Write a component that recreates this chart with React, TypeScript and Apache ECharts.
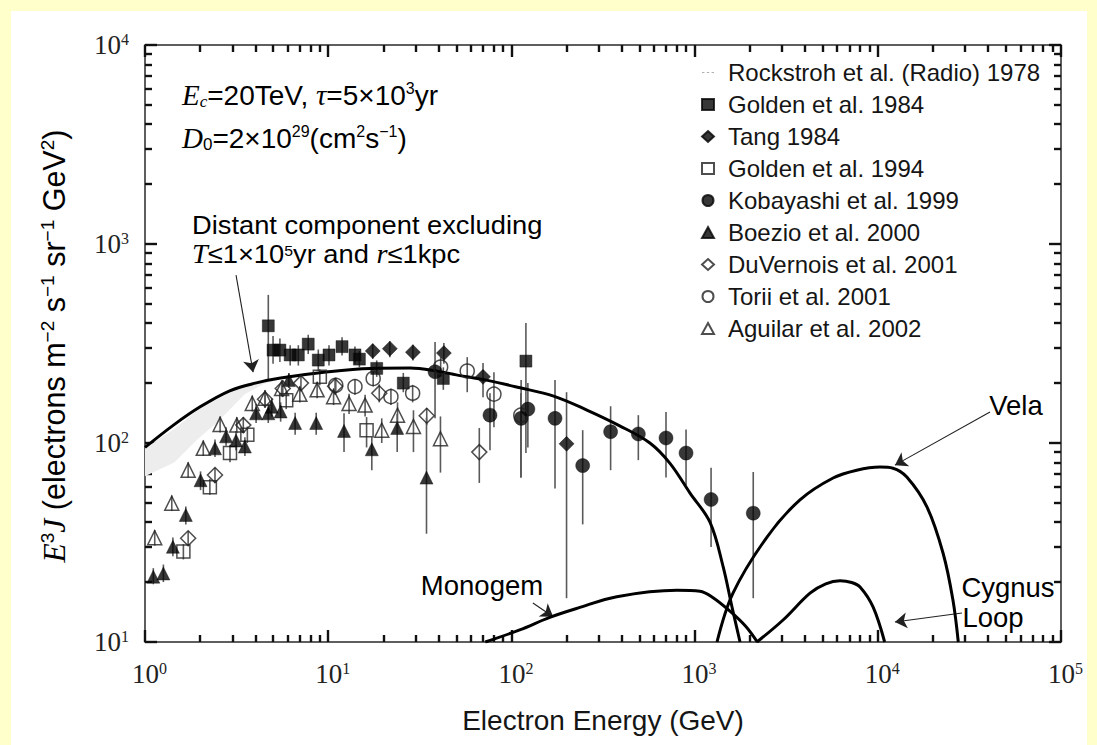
import React, { useEffect, useRef } from "react";
import * as echarts from "echarts";

// ---------- model curves: [E (GeV), E^3 J] ----------
const distantCurve = [[1,95],[1.43,123],[2,152],[2.9,183],[4,200],[5.5,212],[10,228],[17,237],[28,238],[40,229],[50,220],[73,207],[110,190],[170,172],[260,146],[390,122],[570,100],[734,79],[944,56],[1213,40],[1430,24],[1600,15],[1770,10]];
const monogemCurve = [[72,10],[111,11.5],[162,13.3],[230,14.8],[376,16.9],[800,18.2],[1070,18],[1250,16.8],[1560,14.3],[1900,12],[2200,10]];
const velaCurve = [[1325,10],[1620,17.6],[2485,33.7],[3760,51.8],[5700,66.7],[7670,73],[10280,75.7],[12100,74.7],[14400,67.4],[18570,47.6],[22700,28],[25700,16.3],[27500,10]];
const cygnusCurve = [[2190,10],[3040,12.9],[4265,17.6],[5200,19.6],[6220,20.3],[7200,19.9],[8000,18.9],[9420,15],[10900,10]];

// Rockstroh radio band
const radioUpper = [[1,94],[1.45,118],[2,150],[3,182],[4,198],[5.5,210]];
const radioLower = [[1,68],[1.45,80],[1.95,105],[2.5,128],[3.5,176],[4.5,199],[5.5,210]];

// ---------- measurements: [E, value, low, high] ----------
const golden1984 = [[4.71,388,207,555],[5.0,293,250,345],[5.45,293,255,335],[6.2,277,245,310],[6.87,277,245,310],[7.78,314,280,350],[8.83,261,230,295],[10.1,277,245,310],[11.9,305,275,340],[14.0,277,250,305],[14.8,264,240,290],[18.4,237,215,260],[25.7,200,180,225],[42.5,211,185,240],[120,258,89,401]];
const tang1984 = [[17.5,290,265,315],[21.7,298,270,325],[29.0,286,260,312],[42.8,283,250,318],[70,215,170,252],[200,99,16.6,180]];
const golden1994 = [[1.62,28.5,26,31],[2.26,60,55,66],[2.91,89,80,98],[3.62,110,100,121],[5.9,164,148,182],[9.0,215,195,235],[16.2,116,95,135]];
const kobayashi1999 = [[38.3,228,133,322],[76.4,138,92,178],[113,133,67,207],[123,148,95,200],[173,133,59,207],[245,77,39,116],[348,114,73,153],[493,111,82,138],[698,106,67,143],[898,89,61.5,117],[1230,52,30,75],[2090,44.4,16.6,71.5]];
const boezio2000 = [[1.11,21.3,19.5,23.5],[1.26,22.1,20,24.5],[1.42,30.1,27,33.5],[1.67,43.5,39,48],[2.01,65,58,72],[2.41,94,85,104],[2.77,108,97,120],[3.14,103,92,115],[3.51,96,86,107],[4.04,141,126,157],[4.71,141,126,157],[4.92,152,136,168],[5.5,144,128,160],[6.1,207,190,225],[6.6,126,110,142],[8.6,126,110,142],[12.2,115,90,141],[17.3,93,73,107],[23.8,119,90,140],[34.4,67,35,134]];
const duvernois2001 = [[1.72,33.2,30.5,36],[2.41,69,63,75],[3.44,123,112,135],[4.52,166,150,183],[5.65,188,170,207],[7.1,200,182,220],[10.9,193,175,212],[19.0,178,160,197],[34.5,137,123,150],[66.8,90,63,119]];
const torii2001 = [[11.0,195,178,213],[14.0,192,175,210],[17.6,211,192,230],[22.0,171,155,188],[28.9,178,160,196],[41.1,241,215,270],[57.4,230,180,270],[80.3,176,120,227],[112.5,138,67,178]];
const aguilar2002 = [[1.13,33.4,30.5,36.5],[1.40,49.8,45.5,54.5],[1.72,73,67,80],[2.08,94,86,103],[2.57,124,113,136],[3.17,123,112,135],[3.85,158,144,173],[4.52,168,153,184],[5.57,188,171,206],[7.0,176,160,193],[8.7,185,168,203],[10.7,171,155,188],[13.0,158,140,177],[15.9,155,136,175],[19.6,116,100,133],[23.9,138,118,160],[29.2,121,90,146],[41,105,71,136]];

const legendNames = ["Rockstroh et al. (Radio) 1978","Golden et al. 1984","Tang 1984","Golden et al. 1994","Kobayashi et al. 1999","Boezio et al. 2000","DuVernois et al. 2001","Torii et al. 2001","Aguilar et al. 2002"];

// annotation arrows [from, to] in data coords
const arrows = [
  [[3.14,698],[3.89,227]],
  [[131,15.7],[169,13.4]],
  [[40960,143],[12400,77.4]],
  [[28800,14],[12400,12.6]],
];

const xMin = 1, xMax = 1e5, yMin = 10, yMax = 1e4;

// tick values (decades and 2..9 sub-decades)
const xMajorTicks = [1, 10, 100, 1000, 10000, 100000];
const xMinorTicks: number[] = [];
for (let d = 0; d < 5; d++) for (let m = 2; m <= 9; m++) xMinorTicks.push(m * Math.pow(10, d));
const yMajorTicks = [10, 100, 1000, 10000];
const yMinorTicks: number[] = [];
for (let d = 1; d < 4; d++) for (let m = 2; m <= 9; m++) yMinorTicks.push(m * Math.pow(10, d));

const serif = "'Liberation Serif', 'Times New Roman', serif";
const sans = "'Liberation Sans', Arial, Helvetica, sans-serif";
const ink = "#151515";

const markerDefs = [
  { name: legendNames[1], data: golden1984, symbol: "rect", size: 12, filled: true },
  { name: legendNames[2], data: tang1984, symbol: "diamond", size: 15, filled: true },
  { name: legendNames[3], data: golden1994, symbol: "rect", size: 13, filled: false },
  { name: legendNames[4], data: kobayashi1999, symbol: "circle", size: 14, filled: true },
  { name: legendNames[5], data: boezio2000, symbol: "triangle", size: 13, filled: true },
  { name: legendNames[6], data: duvernois2001, symbol: "diamond", size: 15, filled: false },
  { name: legendNames[7], data: torii2001, symbol: "circle", size: 14, filled: false },
  { name: legendNames[8], data: aguilar2002, symbol: "triangle", size: 14, filled: false },
];

const supLabel = (v: number) => `{b|10}{s|${Math.round(Math.log10(v))}}`;
const labelRich = {
  b: { fontFamily: serif, fontSize: 27, color: "#222" },
  s: { fontFamily: serif, fontSize: 16, color: "#222", verticalAlign: "top" },
};

const paramRich = {
  t: { fontFamily: sans, fontSize: 28, color: ink, lineHeight: 30 },
  i: { fontFamily: serif, fontSize: 29, fontStyle: "italic", color: ink, lineHeight: 30 },
  sub: { fontFamily: serif, fontSize: 17, fontStyle: "italic", color: ink, verticalAlign: "bottom", lineHeight: 14 },
  subn: { fontFamily: sans, fontSize: 17, color: ink, verticalAlign: "bottom", lineHeight: 14 },
  sup: { fontFamily: sans, fontSize: 16, color: ink, verticalAlign: "top", lineHeight: 14 },
};
const annRich = {
  t: { fontFamily: sans, fontSize: 27.5, color: ink, lineHeight: 22 },
  i: { fontFamily: serif, fontSize: 28.5, fontStyle: "italic", color: ink, lineHeight: 22 },
  sup: { fontFamily: sans, fontSize: 16, color: ink, verticalAlign: "top", lineHeight: 12 },
};
const tightRich = {
  t: { fontFamily: sans, fontSize: 26, color: ink, lineHeight: 22 },
  i: { fontFamily: serif, fontSize: 27, fontStyle: "italic", color: ink, lineHeight: 22 },
  sup: { fontFamily: sans, fontSize: 15, color: ink, verticalAlign: "top", lineHeight: 12 },
};

const tickLine = { color: "#111111", width: 2.4 };

function xAxisDef(position: string, ticks: number[], len: number, withLabels: boolean) {
  const base: any = {
    type: "log", logBase: 10, min: xMin, max: xMax, gridIndex: 0, position,
    axisLine: { show: false, onZero: false },
    splitLine: { show: false }, minorTick: { show: false },
    axisTick: { show: true, inside: true, length: len, lineStyle: tickLine, customValues: ticks },
    axisLabel: { show: false },
  };
  if (withLabels) {
    base.axisLabel = { show: true, formatter: supLabel, rich: labelRich, margin: 18, padding: [0, 0, 0, 9], customValues: xMajorTicks };
    base.name = "Electron Energy (GeV)";
    base.nameLocation = "middle";
    base.nameGap = 64;
    base.nameTextStyle = { fontFamily: sans, fontSize: 28, color: ink };
  }
  return base;
}

function yAxisDef(position: string, ticks: number[], len: number, withLabels: boolean) {
  const base: any = {
    type: "log", logBase: 10, min: yMin, max: yMax, gridIndex: 0, position,
    axisLine: { show: false, onZero: false },
    splitLine: { show: false }, minorTick: { show: false },
    axisTick: { show: true, inside: true, length: len, lineStyle: tickLine, customValues: ticks },
    axisLabel: { show: false },
  };
  if (withLabels) {
    base.axisLabel = { show: true, formatter: supLabel, rich: labelRich, margin: 16, customValues: yMajorTicks };
  }
  return base;
}

function errorSeries(data: number[][]) {
  return {
    type: "custom",
    name: "_err",
    silent: true,
    clip: true,
    z: 3,
    renderItem: (_p: any, api: any) => {
      const x = api.value(0), lo = api.value(2), hi = api.value(3);
      const a = api.coord([x, lo]);
      const b = api.coord([x, hi]);
      return { type: "line", shape: { x1: a[0], y1: a[1], x2: b[0], y2: b[1] }, style: { stroke: "#5a5a5a", lineWidth: 1.6 } };
    },
    data,
  };
}

function curveSeries(name: string, data: number[][], extra: any = {}) {
  return {
    type: "line",
    name,
    data,
    showSymbol: false,
    smooth: 0.35,
    clip: true,
    z: 5,
    lineStyle: { color: "#000", width: 3 },
    ...extra,
  };
}

export default function App() {
  const ref = useRef<HTMLDivElement>(null);
  useEffect(() => {
    if (!ref.current) return;
    const chart = echarts.init(ref.current, undefined, { renderer: "svg" });

    const bandSeries = {
      type: "custom",
      name: legendNames[0],
      silent: true,
      clip: true,
      z: 1,
      itemStyle: { color: "#bdbdbd" },
      renderItem: (_p: any, api: any) => {
        const pts: number[][] = [];
        radioUpper.forEach((p) => pts.push(api.coord(p)));
        radioLower.slice().reverse().forEach((p) => pts.push(api.coord(p)));
        return { type: "polygon", shape: { points: pts }, style: { fill: "#ededed", stroke: "none" } };
      },
      data: [[1, 94]],
    };

    const scatterSeries: any[] = [];
    markerDefs.forEach((m) => {
      scatterSeries.push(errorSeries(m.data));
    });
    markerDefs.forEach((m) => {
      scatterSeries.push({
        type: "scatter",
        name: m.name,
        data: m.data,
        symbol: m.symbol,
        symbolSize: m.size,
        z: 8,
        clip: true,
        itemStyle: m.filled
          ? { color: "#050505", borderColor: "#050505", borderWidth: 0.5 }
          : { color: "rgba(255,255,255,0)", borderColor: "#222", borderWidth: 1.5 },
      });
    });

    const textGraphics: any[] = [
      { type: "text", x: 54, y: 346, rotation: Math.PI / 2,
        style: { text: "{i|E}{sup|3}{i|J}{t| (electrons m}{sup|−2}{t| s}{sup|−1}{t| sr}{sup|−1}{t| GeV}{sup|2}{t|)}",
          rich: { t: { fontFamily: sans, fontSize: 30.5, color: ink }, i: { fontFamily: serif, fontSize: 31.5, fontStyle: "italic", color: ink }, sup: { fontFamily: sans, fontSize: 19, color: ink, verticalAlign: "top" } },
          align: "center", verticalAlign: "middle" } },
      { type: "text", x: 182, y: 95, style: { text: "{i|E}{sub|c}{t|=20TeV, }{i|τ}{t|=5×10}{sup|3}{t|yr}", rich: paramRich, align: "left", verticalAlign: "middle" } },
      { type: "text", x: 182, y: 138, style: { text: "{i|D}{subn|0}{t|=2×10}{sup|29}{t|(cm}{sup|2}{t|s}{sup|−1}{t|)}", rich: paramRich, align: "left", verticalAlign: "middle" } },
      { type: "text", x: 192, y: 225, scaleX: 1.05, style: { text: "{t|Distant component excluding}", rich: tightRich, align: "left", verticalAlign: "middle" } },
      { type: "text", x: 192, y: 254, scaleX: 1.05, style: { text: "{i|T}{t|≤1×10}{sup|5}{t|yr and }{i|r}{t|≤1kpc}", rich: tightRich, align: "left", verticalAlign: "middle" } },
      { type: "text", x: 482, y: 585, style: { text: "{t|Monogem}", rich: annRich, align: "center", verticalAlign: "middle" } },
      { type: "text", x: 1016, y: 405, style: { text: "{t|Vela}", rich: annRich, align: "center", verticalAlign: "middle" } },
      { type: "text", x: 1008, y: 587, style: { text: "{t|Cygnus}", rich: annRich, align: "center", verticalAlign: "middle" } },
      { type: "text", x: 993, y: 617, style: { text: "{t|Loop}", rich: annRich, align: "center", verticalAlign: "middle" } },
    ];

    const option: any = {
      animation: false,
      backgroundColor: "transparent",
      grid: { left: 145, top: 45, width: 916, height: 597, show: true, borderColor: "#2a2a2a", borderWidth: 1.5, backgroundColor: "transparent" },
      xAxis: [
        xAxisDef("bottom", xMajorTicks, 12, true),
        xAxisDef("bottom", xMinorTicks, 7, false),
        xAxisDef("top", xMajorTicks, 12, false),
        xAxisDef("top", xMinorTicks, 7, false),
      ],
      yAxis: [
        yAxisDef("left", yMajorTicks, 12, true),
        yAxisDef("left", yMinorTicks, 7, false),
        yAxisDef("right", yMajorTicks, 12, false),
        yAxisDef("right", yMinorTicks, 7, false),
      ],
      legend: {
        orient: "vertical", left: 696, top: 55, itemWidth: 12, itemHeight: 11, itemGap: 7,
        textStyle: { fontFamily: sans, fontSize: 24, color: ink, lineHeight: 25, padding: [0, 0, 0, 9] },
        selectedMode: false,
        data: [
          { name: legendNames[0], icon: "path://M0,0h2v1h-2zM4,0h2v1h-2zM8,0h2v1h-2z", itemStyle: { color: "#b0b0b0" } },
          ...legendNames.slice(1).map((n) => ({ name: n })),
        ],
      },
      graphic: textGraphics,
      series: [
        bandSeries,
        curveSeries("_distant", distantCurve, {
          markLine: {
            silent: true, symbol: ["none", "arrow"], symbolSize: 12,
            lineStyle: { color: "#222", width: 1.1, type: "solid" }, label: { show: false },
            data: arrows.map((a) => [{ coord: a[0] }, { coord: a[1] }]),
          },
        }),
        curveSeries("_monogem", monogemCurve),
        curveSeries("_vela", velaCurve),
        curveSeries("_cygnus", cygnusCurve),
        ...scatterSeries,
      ],
    };
    chart.setOption(option);
    return () => chart.dispose();
  }, []);

  return (
    <div style={{ position: "absolute", left: 0, top: 0, width: 1097, height: 745, background: "#ffffcc" }}>
      <div style={{ position: "absolute", left: 11, top: 11, width: 1076, height: 734, background: "#ffffff" }} />
      <div ref={ref} style={{ position: "absolute", left: 0, top: 0, width: 1097, height: 745 }} />
    </div>
  );
}
